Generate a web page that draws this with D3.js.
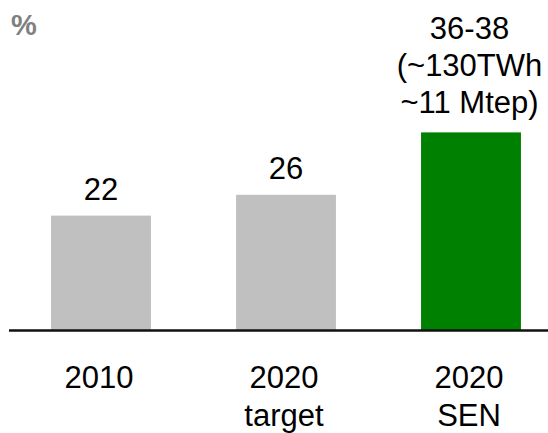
<!DOCTYPE html>
<html>
<head>
<meta charset="utf-8">
<script src="https://cdn.jsdelivr.net/npm/d3@7"></script>
<style>
  html, body { margin: 0; padding: 0; background: #fff; }
  svg { display: block; }
  text { font-family: "Liberation Sans", Arial, sans-serif; }
</style>
</head>
<body>
<svg id="chart" width="548" height="433"></svg>
<script>
// Data
const categories = ["2010", "2020 target", "2020 SEN"];
const tickLines = [["2010"], ["2020", "target"], ["2020", "SEN"]];
const values = [22, 26, 38];
const valueLabels = [["22"], ["26"], ["36-38", "(~130TWh", "~11 Mtep)"]];
const barColors = ["#c0c0c0", "#c0c0c0", "#008000"];
const unitLabel = "%";

const svg = d3.select("#chart");
const W = 548, H = 433;
const baseY = 330;

const x = d3.scaleBand()
  .domain(categories)
  .range([8.5, 563.5])
  .paddingInner(0.46)
  .paddingOuter(0.23);

const y = d3.scaleLinear()
  .domain([0, 38])
  .range([baseY, baseY - 197.6]);

// bars
svg.selectAll("rect.bar")
  .data(values)
  .enter().append("rect")
  .attr("class", "bar")
  .attr("x", (d, i) => x(categories[i]))
  .attr("width", x.bandwidth())
  .attr("y", d => y(d))
  .attr("height", d => y(0) - y(d))
  .attr("fill", (d, i) => barColors[i]);

// baseline axis
svg.append("line")
  .attr("x1", 9).attr("x2", W)
  .attr("y1", baseY + 0.5).attr("y2", baseY + 0.5)
  .attr("stroke", "#111")
  .attr("stroke-width", 2.4);

// value labels
const lineGap = 37;
valueLabels.forEach((lines, i) => {
  const cx = x(categories[i]) + x.bandwidth() / 2;
  const top = y(values[i]);
  const n = lines.length;
  const lastBase = top - (n > 1 ? 19 : 16);
  lines.forEach((t, j) => {
    svg.append("text")
      .attr("x", cx - (n > 1 ? 1.5 : 0))
      .attr("y", lastBase - (n - 1 - j) * lineGap)
      .attr("text-anchor", "middle")
      .attr("font-size", 31)
      .attr("fill", "#000")
      .text(t);
  });
});

// category labels
tickLines.forEach((lines, i) => {
  const cx = x(categories[i]) + x.bandwidth() / 2;
  lines.forEach((t, j) => {
    svg.append("text")
      .attr("x", cx - 2)
      .attr("y", 388 + j * 38)
      .attr("text-anchor", "middle")
      .attr("font-size", 31)
      .attr("fill", "#000")
      .text(t);
  });
});

// unit label
svg.append("text")
  .attr("x", 11)
  .attr("y", 35)
  .attr("font-size", 29)
  .attr("font-weight", "bold")
  .attr("fill", "#808080")
  .text(unitLabel);
</script>
</body>
</html>
